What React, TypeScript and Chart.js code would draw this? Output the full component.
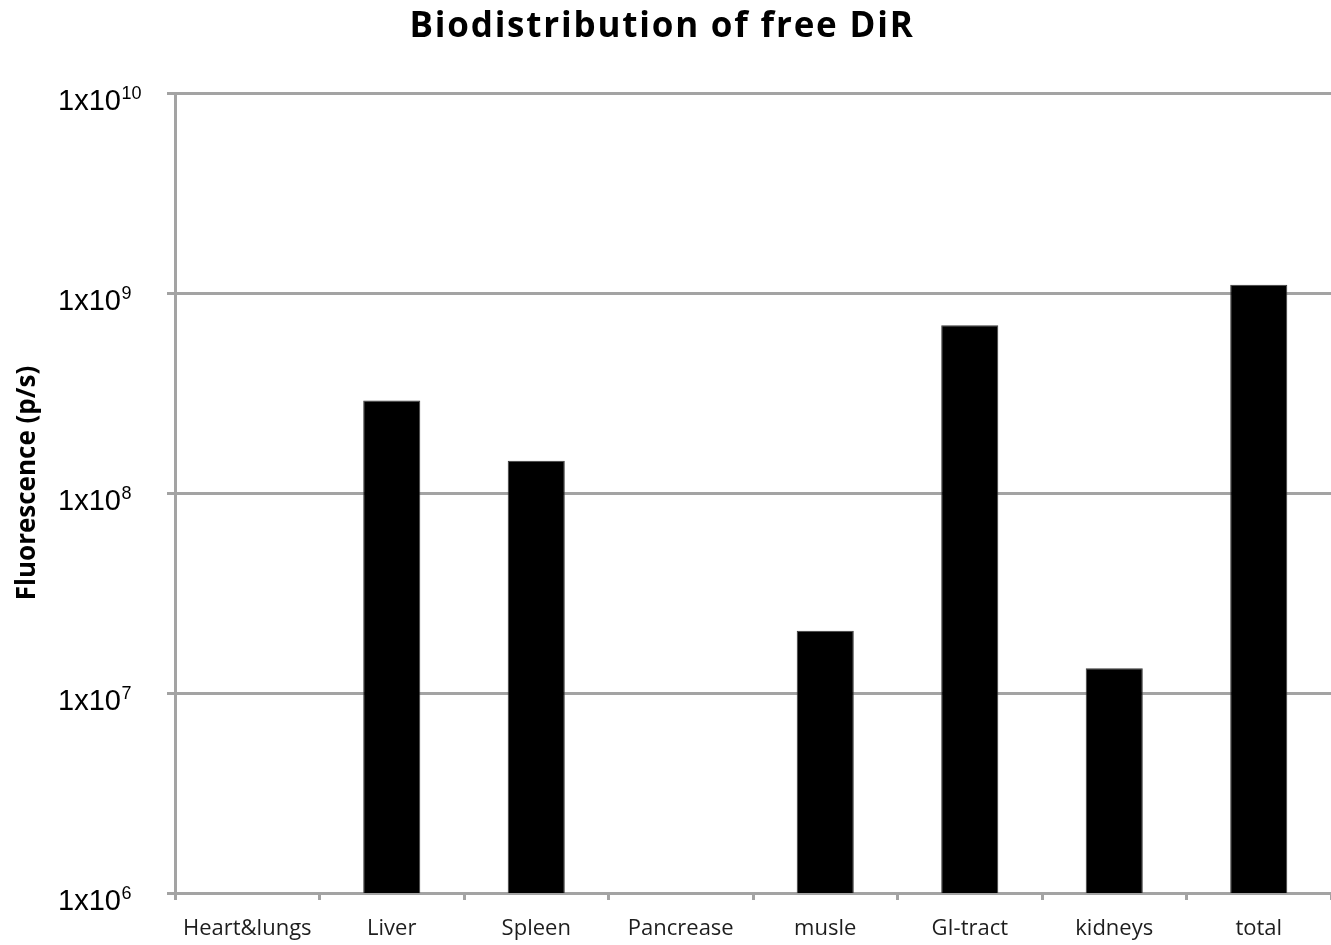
import React, { useEffect, useRef } from 'react';
import { Chart, registerables } from 'chart.js';

Chart.register(...registerables);

const categories = ['Heart&lungs', 'Liver', 'Spleen', 'Pancrease', 'musle', 'GI-tract', 'kidneys', 'total'];
const fluorescence: (number | null)[] = [null, 2.9e8, 1.45e8, null, 2.05e7, 6.9e8, 1.33e7, 1.1e9];
const tickExponents = [6, 7, 8, 9, 10];
const titleText = 'Biodistribution of free DiR';
const yTitleText = 'Fluorescence (p/s)';

export default function App() {
  const ref = useRef<HTMLCanvasElement>(null);

  useEffect(() => {
    document.body.style.margin = '0';
    const canvas = ref.current;
    if (!canvas) return;

    const textPlugin = {
      id: 'textPlugin',
      afterDraw(chart: any) {
        const ctx = chart.ctx;
        const yScale = chart.scales.y;
        ctx.save();
        ctx.fillStyle = '#000';
        ctx.textBaseline = 'alphabetic';
        ctx.textAlign = 'left';
        tickExponents.forEach((e) => {
          const py = yScale.getPixelForValue(Math.pow(10, e));
          ctx.font = '29px "Liberation Sans", Arial, sans-serif';
          const base = '1x10';
          const bw = ctx.measureText(base).width;
          ctx.fillText(base, 58, py + 17);
          ctx.font = '18px "Liberation Sans", Arial, sans-serif';
          ctx.fillText(String(e), 58 + bw + 0.5, py + 6);
        });
        // title
        ctx.font = 'bold 35px "Open Sans", sans-serif';
        (ctx as any).letterSpacing = '1.8px';
        ctx.textAlign = 'center';
        ctx.fillText(titleText, 662, 37);
        (ctx as any).letterSpacing = '0px';
        // y axis title
        ctx.translate(35, 483);
        ctx.rotate(-Math.PI / 2);
        ctx.font = 'bold 26px "Open Sans", sans-serif';
        ctx.fillText(yTitleText, 0, 0);
        ctx.restore();
      },
    };

    const chart = new Chart(canvas, {
      type: 'bar',
      data: {
        labels: categories,
        datasets: [
          {
            data: fluorescence as any,
            backgroundColor: '#000000',
            borderColor: '#3a3a3a',
            borderWidth: 1,
            barPercentage: 0.395,
            categoryPercentage: 1,
          },
        ],
      },
      options: {
        responsive: false,
        animation: false,
        layout: { padding: { top: 93, right: 0, bottom: 0, left: 0 } },
        plugins: {
          legend: { display: false },
          tooltip: { enabled: false },
          title: { display: false },
        },
        scales: {
          x: {
            type: 'category',
            offset: true,
            grid: {
              offset: true,
              drawOnChartArea: false,
              drawTicks: true,
              tickLength: 7,
              color: '#a3a3a3',
              lineWidth: 3,
            },
            border: { display: true, color: '#a3a3a3', width: 3 },
            ticks: {
              color: '#1e1e1e',
              font: { family: '"Open Sans", sans-serif', size: 22 },
              padding: 16,
              maxRotation: 0,
              autoSkip: false,
            },
            afterFit(scale: any) {
              scale.height = 52;
            },
          },
          y: {
            type: 'logarithmic',
            min: 1e6,
            max: 1e10,
            afterBuildTicks(scale: any) {
              scale.ticks = tickExponents.map((e) => ({ value: Math.pow(10, e) }));
            },
            grid: {
              drawOnChartArea: true,
              drawTicks: true,
              tickLength: 8,
              color: '#a3a3a3',
              lineWidth: 3,
            },
            border: { display: true, color: '#a3a3a3', width: 3 },
            ticks: { display: false },
            afterFit(scale: any) {
              scale.width = 175;
            },
          },
        },
      },
      plugins: [textPlugin],
    });

    return () => chart.destroy();
  }, []);

  return <canvas ref={ref} width={1331} height={945} style={{ display: 'block' }} />;
}
